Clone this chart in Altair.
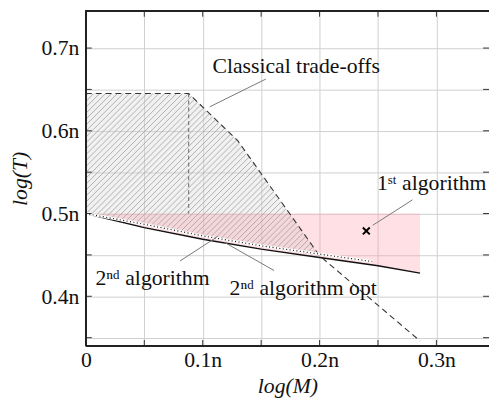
import altair as alt
import pandas as pd

# ---------------- data ----------------
x_grid = [0, 0.05, 0.1, 0.15, 0.2, 0.25, 0.3]
y_grid = [0.35, 0.4, 0.45, 0.5, 0.55, 0.6, 0.65, 0.7]

classical_x = [0, 0.088, 0.13, 0.2, 0.286]
classical_y = [0.645, 0.645, 0.588, 0.449, 0.346]

split_x = [0.088, 0.088]
split_y = [0.645, 0.5]

alg2_x = [0, 0.05, 0.1, 0.15, 0.2, 0.25, 0.286]
alg2_y = [0.5, 0.483, 0.469, 0.457, 0.447, 0.437, 0.428]

opt_x = [0, 0.05, 0.1, 0.15, 0.2, 0.245]
opt_y = [0.5, 0.487, 0.473, 0.461, 0.451, 0.442]

region_x = [0, 0.05, 0.088, 0.1, 0.13, 0.15, 0.2]
region_top = [0.645, 0.645, 0.645, 0.629, 0.588, 0.548, 0.449]
region_bottom = [0.5, 0.487, 0.477, 0.473, 0.465, 0.461, 0.449]

pink_ceiling = 0.5

alg1_x = [0.24]
alg1_y = [0.479]

label_text = ["Classical trade-offs", "1ˢᵗ algorithm", "2ⁿᵈ algorithm", "2ⁿᵈ algorithm opt"]
label_x = [0.18, 0.296, 0.057, 0.186]
label_y = [0.678, 0.537, 0.422, 0.410]

pointer_x1 = [0.106, 0.2796, 0.0805, 0.1186]
pointer_y1 = [0.629, 0.5166, 0.4426, 0.4652]
pointer_x2 = [0.154, 0.2455, 0.1127, 0.161]
pointer_y2 = [0.6625, 0.4858, 0.4722, 0.4312]

# ---------------- layout ----------------
W, H = 409, 340
X_DOM = [0, 0.345]
Y_DOM = [0.34, 0.745]
FONT = "'Liberation Serif', 'Times New Roman', serif"
FS = 22

# hatch texture clipped to the region polygon (pixel-space 45 degree lines)
def px(v): return (v - X_DOM[0]) / (X_DOM[1] - X_DOM[0]) * W
def py(v): return (Y_DOM[1] - v) / (Y_DOM[1] - Y_DOM[0]) * H
def ix(p): return X_DOM[0] + p / W * (X_DOM[1] - X_DOM[0])
def iy(p): return Y_DOM[1] - p / H * (Y_DOM[1] - Y_DOM[0])

poly = list(zip(region_x, region_top)) + list(zip(region_x[::-1], region_bottom[::-1]))
pts = [(px(a), py(b)) for a, b in poly]
sums = [p[0] + p[1] for p in pts]
hatch = []
c = min(sums) + 2
while c < max(sums):
    hits = []
    for i in range(len(pts)):
        (x1, y1), (x2, y2) = pts[i], pts[(i + 1) % len(pts)]
        f1, f2 = x1 + y1 - c, x2 + y2 - c
        if (f1 < 0) != (f2 < 0):
            t = f1 / (f1 - f2)
            hits.append((x1 + t * (x2 - x1), y1 + t * (y2 - y1)))
    if len(hits) >= 2:
        hits.sort()
        a, b = hits[0], hits[-1]
        hatch.append(dict(x=ix(a[0]), y=iy(a[1]), x2=ix(b[0]), y2=iy(b[1])))
    c += 6
hatch_df = pd.DataFrame(hatch)

# ---------------- scales & axes ----------------
xs = alt.Scale(domain=X_DOM, nice=False, zero=False)
ys = alt.Scale(domain=Y_DOM, nice=False, zero=False)

x_axis = alt.Axis(
    values=x_grid, grid=True, gridColor="#cfcfcf", gridWidth=1,
    ticks=False, tickSize=0, domain=False,
    labelExpr="abs(datum.value*10 - round(datum.value*10)) < 0.001 ? (datum.value == 0 ? '0' : format(datum.value, '.1f') + 'n') : ''",
    labelFont=FONT, labelFontSize=FS, labelColor="#111", labelPadding=4, labelFlush=False,
    title="log(M)", titleFont=FONT, titleFontSize=FS, titleFontStyle="italic", titleFontWeight="normal",
    titleColor="#111", titleY=40, titleBaseline="middle",
)
y_axis = alt.Axis(
    values=y_grid, grid=True, gridColor="#cfcfcf", gridWidth=1,
    ticks=False, tickSize=0, domain=False,
    labelExpr="abs(datum.value*10 - round(datum.value*10)) < 0.001 ? format(datum.value, '.1f') + 'n' : ''",
    labelFont=FONT, labelFontSize=FS, labelColor="#111", labelPadding=7, labelFlush=False,
    title="log(T)", titleFont=FONT, titleFontSize=FS, titleFontStyle="italic", titleFontWeight="normal",
    titleColor="#111", titleX=-67, titleY=170, titleBaseline="middle", titleAlign="center",
)

def X(f="x"): return alt.X(f, type="quantitative", scale=xs, axis=x_axis)
def Y(f="y"): return alt.Y(f, type="quantitative", scale=ys, axis=y_axis)

region_df = pd.DataFrame({"x": region_x, "y": region_top, "y2": region_bottom})
pink_df = pd.DataFrame({"x": alg2_x, "y": alg2_y, "y2": [pink_ceiling] * len(alg2_x)})
classical_df = pd.DataFrame({"x": classical_x, "y": classical_y})
split_df = pd.DataFrame({"x": split_x, "y": split_y})
alg2_df = pd.DataFrame({"x": alg2_x, "y": alg2_y})
opt_df = pd.DataFrame({"x": opt_x, "y": opt_y})
alg1_df = pd.DataFrame({"x": alg1_x, "y": alg1_y})
labels_df = pd.DataFrame({"x": label_x, "y": label_y, "t": label_text})
pointer_df = pd.DataFrame({"x": pointer_x1, "y": pointer_y1, "x2": pointer_x2, "y2": pointer_y2})
xt_df = pd.DataFrame({"x": x_grid})
yt_df = pd.DataFrame({"y": y_grid})

region = alt.Chart(region_df).mark_area(color="#d8d8d8", opacity=0.35).encode(
    x=X(), y=Y(), y2="y2")
pink = alt.Chart(pink_df).mark_area(color="#ff9aa8", opacity=0.3).encode(
    x=X(), y=Y(), y2="y2")
hatch_lines = alt.Chart(hatch_df).mark_rule(color="#a0a0a0", strokeWidth=0.8).encode(
    x=X(), y=Y(), x2="x2", y2="y2")
split = alt.Chart(split_df).mark_line(color="#666", strokeWidth=1, strokeDash=[4, 3]).encode(
    x=X(), y=Y())
classical = alt.Chart(classical_df).mark_line(color="#333", strokeWidth=1.1, strokeDash=[6, 4]).encode(
    x=X(), y=Y())
alg2 = alt.Chart(alg2_df).mark_line(color="#111", strokeWidth=1.5).encode(x=X(), y=Y())
opt_bg = alt.Chart(opt_df).mark_line(color="white", strokeWidth=2.5).encode(x=X(), y=Y())
opt = alt.Chart(opt_df).mark_line(color="#111", strokeWidth=1.2, strokeDash=[1, 2.5]).encode(x=X(), y=Y())
pointers = alt.Chart(pointer_df).mark_rule(color="#777", strokeWidth=1).encode(
    x=X(), y=Y(), x2="x2", y2="y2")
labels = alt.Chart(labels_df).mark_text(font=FONT, fontSize=FS, color="#111", align="center",
                                        baseline="middle").encode(x=X(), y=Y(), text="t:N")
alg1 = alt.Chart(alg1_df).mark_point(shape="M-1,-1L1,1M-1,1L1,-1", size=49, strokeWidth=2,
                                     color="#000", filled=False, opacity=1).encode(x=X(), y=Y())

tick_len = 6
left_ticks = alt.Chart(yt_df).mark_rule(color="#333", strokeWidth=1).encode(
    y=Y(), x=alt.value(0), x2=alt.value(tick_len))
right_ticks = alt.Chart(yt_df).mark_rule(color="#333", strokeWidth=1).encode(
    y=Y(), x=alt.value(W - tick_len), x2=alt.value(W))
bottom_ticks = alt.Chart(xt_df).mark_rule(color="#333", strokeWidth=1).encode(
    x=X(), y=alt.value(H - tick_len), y2=alt.value(H))
top_ticks = alt.Chart(xt_df).mark_rule(color="#333", strokeWidth=1).encode(
    x=X(), y=alt.value(0), y2=alt.value(tick_len))

frame_left = alt.Chart(xt_df).mark_rule(color="#222", strokeWidth=1.3).encode(
    x=alt.value(0), y=alt.value(0), y2=alt.value(H))
frame_bottom = alt.Chart(xt_df).mark_rule(color="#222", strokeWidth=1.3).encode(
    x=alt.value(0), x2=alt.value(W), y=alt.value(H))
frame_top = alt.Chart(xt_df).mark_rule(color="#222", strokeWidth=1.3).encode(
    x=alt.value(0), x2=alt.value(W), y=alt.value(0))

chart = alt.layer(
    region, pink, hatch_lines, split, classical, alg2, opt_bg, opt, pointers, labels, alg1,
    left_ticks, right_ticks, bottom_ticks, top_ticks, frame_left, frame_bottom, frame_top,
).properties(
    width=W, height=H,
    autosize=alt.AutoSizeParams(type="none"),
    padding={"left": 79, "top": 0, "right": 0, "bottom": 52},
).configure_view(stroke="transparent")

chart.save("out.html", embed_options={"renderer": "svg", "actions": False})
